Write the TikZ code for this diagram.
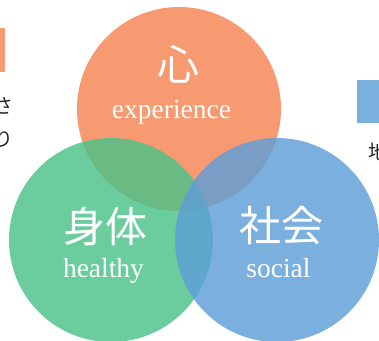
\documentclass[tikz,border=0pt]{standalone}
\usepackage{fontspec}
\setmainfont{Liberation Serif}
\newfontfamily\jpfont{Noto Sans CJK JP}
\definecolor{kokoro}{RGB}{245,132,83}
\definecolor{karada}{RGB}{75,194,137}
\definecolor{shakai}{RGB}{94,159,215}
\definecolor{tabOrange}{RGB}{247,154,114}
\definecolor{tabBlue}{RGB}{123,176,222}
\usetikzlibrary{positioning}

\begin{document}
\begin{tikzpicture}[x=1pt,y=-1pt,
    ring/.style={circle,minimum size=204pt,inner sep=0pt,outer sep=0pt,fill opacity=.82},
    kanji/.style={text=white,font=\jpfont\fontsize{42}{42}\selectfont,inner sep=0pt},
    eng/.style={text=white,font=\fontsize{27.5}{28}\selectfont,inner sep=0pt,anchor=base},
    side/.style={font=\jpfont\fontsize{20}{20}\selectfont,inner sep=0pt,text=black!85}]
  \useasboundingbox (0,0) rectangle (379,340);
  \clip (0,0) rectangle (379,340);

  % tabs at the edges
  \fill[tabOrange] (0,28) rectangle (5,72);
  \fill[tabBlue] (357,80) rectangle (379,123);
  \node (sa)[side,anchor=east] at (14,106) {さ};
  \node (ri)[side,anchor=east] at (14,139) {り};
  \node (chi)[side,anchor=west] at (368,152) {地};

  % the three circles
  \node (mind)[ring,fill=kokoro] at (179,109) {};
  \node (body)[ring,fill=karada] at (111,240) {};
  \node (society)[ring,fill=shakai] at (277,240) {};

  % labels
  \node (mindJ)[kanji] at (178,64) {心};
  \node (mindE)[eng] at (171.5,118) {experience};
  \node (bodyJ)[kanji] at (105,226) {身体};
  \node (bodyE)[eng] at (103.5,277) {healthy};
  \node (societyJ)[kanji] at (281.5,226) {社会};
  \node (societyE)[eng] at (278.5,277) {social};
\end{tikzpicture}
\end{document}
